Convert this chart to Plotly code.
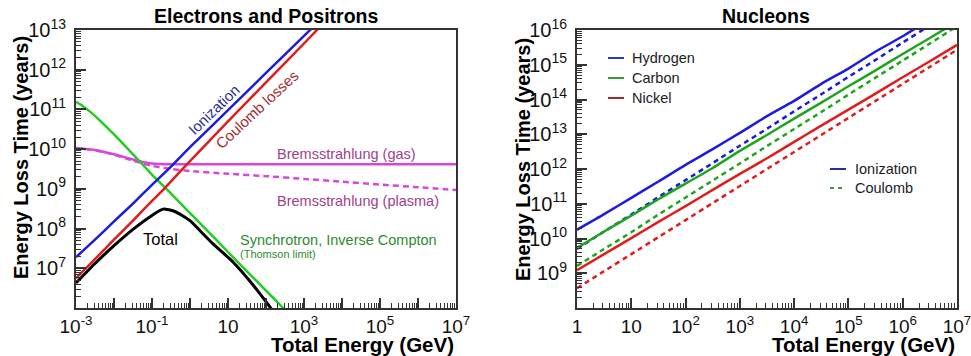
import plotly.graph_objects as go

W, H = 971, 356
FONT = "Liberation Sans, Arial, Helvetica, sans-serif"

# ---------------- Electrons and positrons (log10 energy [GeV], log10 time [yr]) ----------------
ion_e_logE = [-3.0, -2.5, -2.0, -1.5, -1.0, -0.5, 0.0, 1.0, 2.0, 3.0, 3.5]
ion_e_logT = [7.28, 7.72, 8.18, 8.63, 9.10, 9.56, 10.05, 10.98, 11.92, 12.85, 13.32]

coul_e_logE = [-3.0, -2.5, -2.0, -1.5, -1.0, -0.7, -0.5, 0.0, 1.0, 2.0, 3.0, 3.5]
coul_e_logT = [6.75, 7.23, 7.72, 8.20, 8.70, 8.98, 9.19, 9.70, 10.70, 11.68, 12.66, 13.16]

sync_logE = [-3.0, -2.8, -2.6, -2.37, -2.0, -1.5, -1.0, -0.5, 0.0, 0.26, 1.0, 1.5, 2.0, 2.45, 2.6]
sync_logT = [11.19, 11.07, 10.92, 10.72, 10.37, 9.87, 9.36, 8.88, 8.39, 8.14, 7.41, 6.92, 6.44, 6.0, 5.85]

brem_gas_logE = [-3.0, -2.5, -2.0, -1.5, -1.2, -1.0, -0.5, 0.0, 7.0]
brem_gas_logT = [10.03, 9.98, 9.87, 9.74, 9.67, 9.64, 9.62, 9.62, 9.62]

brem_pl_logE = [-3.0, -2.5, -2.0, -1.5, -1.0, -0.5, 0.0, 1.0, 2.0, 3.0, 4.0, 5.0, 6.0, 7.0]
brem_pl_logT = [10.03, 9.97, 9.86, 9.71, 9.58, 9.50, 9.45, 9.38, 9.32, 9.25, 9.18, 9.11, 9.04, 8.97]

total_logE = [-3.0, -2.5, -2.0, -1.5, -1.0, -0.71, -0.4, 0.0, 0.26, 0.6, 1.13, 1.6, 2.03, 2.2]
total_logT = [6.63, 7.12, 7.57, 7.98, 8.33, 8.49, 8.43, 8.20, 7.95, 7.62, 7.16, 6.65, 6.12, 5.90]

# ---------------- Nucleons (log10 energy [GeV], log10 time [yr]) ----------------
nuc_logE = [0.0, 0.5, 1.0, 1.5, 2.0, 2.5, 3.0, 3.5, 4.0, 4.5, 5.0, 5.5, 6.0, 6.5, 7.0]
h_ion_logT = [10.25, 10.70, 11.17, 11.64, 12.12, 12.57, 13.04, 13.52, 13.96, 14.45, 14.89, 15.38, 15.82, 16.30, 16.76]
h_coul_logT = [9.70, 10.20, 10.69, 11.19, 11.68, 12.17, 12.67, 13.16, 13.66, 14.15, 14.65, 15.14, 15.64, 16.13, 16.63]
c_ion_logT = [9.73, 10.20, 10.66, 11.13, 11.58, 12.03, 12.52, 12.98, 13.45, 13.91, 14.38, 14.84, 15.31, 15.77, 16.24]
c_coul_logT = [9.21, 9.70, 10.18, 10.69, 11.18, 11.67, 12.16, 12.66, 13.15, 13.64, 14.14, 14.63, 15.12, 15.61, 16.11]
ni_ion_logT = [9.09, 9.55, 10.01, 10.48, 10.93, 11.40, 11.86, 12.31, 12.78, 13.25, 13.71, 14.17, 14.64, 15.10, 15.57]
ni_coul_logT = [8.57, 9.06, 9.55, 10.04, 10.53, 11.02, 11.51, 12.00, 12.49, 12.98, 13.47, 13.96, 14.45, 14.94, 15.43]

# tick labels
e_xticks = list(range(-3, 8))
e_xlabels = ["10<sup>-3</sup>", "", "10<sup>-1</sup>", "", "10", "", "10<sup>3</sup>", "", "10<sup>5</sup>", "", "10<sup>7</sup>"]
e_yticks = list(range(6, 14))
e_ylabels = [""] + [f"10<sup>{k}</sup>" for k in range(7, 14)]
n_xticks = list(range(0, 8))
n_xlabels = ["1", "10"] + [f"10<sup>{k}</sup>" for k in range(2, 8)]
n_yticks = list(range(8, 17))
n_ylabels = [""] + [f"10<sup>{k}</sup>" for k in range(9, 17)]

BLUE = "#1c1ce0"
RED = "#e01c1c"
GREEN_E = "#22cc22"
GREEN_N = "#1ea51e"
MAGENTA = "#d848d8"


def p(v):
    return [10.0 ** a for a in v]


fig = go.Figure()


def line(xa, ya, logE, logT, color, width=2.5, dash="solid"):
    fig.add_trace(go.Scatter(
        x=p(logE), y=p(logT), xaxis=xa, yaxis=ya, mode="lines",
        line=dict(color=color, width=width, dash=dash, shape="spline", smoothing=0.6),
        showlegend=False, hoverinfo="skip"))


# electrons panel
line("x", "y", brem_gas_logE, brem_gas_logT, MAGENTA)
line("x", "y", brem_pl_logE, brem_pl_logT, MAGENTA, dash="6px,4px")
line("x", "y", sync_logE, sync_logT, GREEN_E)
line("x", "y", ion_e_logE, ion_e_logT, BLUE)
line("x", "y", coul_e_logE, coul_e_logT, RED)
line("x", "y", total_logE, total_logT, "black", width=3)

# nucleons panel
DASH = "5px,4px"
line("x2", "y2", nuc_logE, h_ion_logT, BLUE)
line("x2", "y2", nuc_logE, h_coul_logT, BLUE, dash=DASH)
line("x2", "y2", nuc_logE, c_ion_logT, GREEN_N)
line("x2", "y2", nuc_logE, c_coul_logT, GREEN_N, dash=DASH)
line("x2", "y2", nuc_logE, ni_ion_logT, RED)
line("x2", "y2", nuc_logE, ni_coul_logT, RED, dash=DASH)


def minor_vals(lo, hi):
    return [m * 10.0 ** k for k in range(lo, hi) for m in range(2, 10)]


def fx(px):
    return px / W


def fy(py):
    return 1 - py / H


AXC = "#333333"
xtickfont = dict(family=FONT, size=19, color="#111111")
ytickfont = dict(family=FONT, size=20, color="#111111")


def xaxis(dom, lo, hi, ticks, labels):
    return dict(type="log", domain=dom, range=[lo, hi], tickmode="array",
                tickvals=p(ticks), ticktext=labels, ticks="inside", ticklen=10,
                tickwidth=1.5, tickcolor=AXC, showline=True, linecolor=AXC,
                linewidth=2, mirror=True, showgrid=False, zeroline=False,
                tickfont=xtickfont, ticklabelstandoff=0, automargin=False,
                ticklabeloverflow="allow",
                minor=dict(tickvals=minor_vals(lo, hi), ticks="inside", ticklen=5,
                           tickwidth=1.2, tickcolor=AXC, showgrid=False))


def yaxis(anchor, lo, hi, ticks, labels):
    return dict(type="log", domain=[fy(308), fy(30)], range=[lo, hi], anchor=anchor,
                tickmode="array", tickvals=p(ticks), ticktext=labels, ticks="inside",
                ticklen=10, tickwidth=1.5, tickcolor=AXC, showline=True,
                linecolor=AXC, linewidth=2, mirror=True, showgrid=False,
                zeroline=False, tickfont=ytickfont, ticklabelstandoff=4,
                automargin=False, ticklabeloverflow="allow",
                minor=dict(tickvals=minor_vals(lo, hi), ticks="inside", ticklen=5,
                           tickwidth=1.2, tickcolor=AXC, showgrid=False))


fig.update_layout(
    width=W, height=H, margin=dict(l=0, r=0, t=0, b=0, autoexpand=False),
    paper_bgcolor="white", plot_bgcolor="white", showlegend=False,
    font=dict(family=FONT),
    xaxis=dict(**xaxis([fx(76), fx(456)], -3, 7, e_xticks, e_xlabels), anchor="y"),
    yaxis=yaxis("x", 6, 13, e_yticks, e_ylabels),
    xaxis2=dict(**xaxis([fx(577), fx(957)], 0, 7, n_xticks, n_xlabels), anchor="y2"),
    yaxis2=yaxis("x2", 8, 16, n_yticks, n_ylabels),
)

ann = []


def text(x, y, s, size=14, color="#222222", bold=False, angle=0, xanchor="center"):
    if bold:
        s = f"<b>{s}</b>"
    ann.append(dict(x=fx(x), y=fy(y), xref="paper", yref="paper", text=s,
                    showarrow=False, textangle=angle, xanchor=xanchor, yanchor="middle",
                    font=dict(family=FONT, size=size, color=color)))


# titles
text(266, 16, "Electrons and Positrons", size=19.5, color="black", bold=True)
text(766, 16, "Nucleons", size=19.5, color="black", bold=True)
text(456, 344, "Total Energy (GeV)", size=20.5, color="black", bold=True, xanchor="right")
text(957, 344, "Total Energy (GeV)", size=20.5, color="black", bold=True, xanchor="right")
text(21, 158, "Energy Loss Time (years)", size=20, color="black", bold=True, angle=-90)
text(523, 160, "Energy Loss Time (years)", size=20, color="black", bold=True, angle=-90)

# curve labels, electrons panel
text(214, 110, "Ionization", size=15, color="#2b2ba0", angle=-44)
text(257, 110, "Coulomb losses", size=15, color="#a02b2b", angle=-43)
text(275, 154, "Bremsstrahlung (gas)", size=14.5, color="#a0418c", xanchor="left")
text(275, 201, "Bremsstrahlung (plasma)", size=14.5, color="#a0418c", xanchor="left")
text(238, 240, "Synchrotron, Inverse Compton", size=14.5, color="#2e8b2e", xanchor="left")
text(238, 254, "(Thomson limit)", size=11, color="#2e8b2e", xanchor="left")
text(160, 239, "Total", size=16.5, color="black")

# legends, nucleons panel
legend_items = [("Hydrogen", "#2b3aa8", 58), ("Carbon", "#3a9a3a", 78), ("Nickel", "#a02b2b", 98)]
shapes = []
for name, col, yy in legend_items:
    shapes.append(dict(type="line", xref="paper", yref="paper", x0=fx(608), x1=fx(624),
                       y0=fy(yy), y1=fy(yy), line=dict(color=col, width=2)))
    text(630, yy, name, size=14.5, xanchor="left")

shapes.append(dict(type="line", xref="paper", yref="paper", x0=fx(830), x1=fx(846),
                   y0=fy(169), y1=fy(169), line=dict(color="#2b2ba8", width=2)))
text(853, 169, "Ionization", size=14.5, xanchor="left")
shapes.append(dict(type="line", xref="paper", yref="paper", x0=fx(830), x1=fx(846),
                   y0=fy(188), y1=fy(188), line=dict(color="#3a9a3a", width=2, dash="4px,4px")))
text(853, 188, "Coulomb", size=14.5, xanchor="left")

fig.update_layout(annotations=ann, shapes=shapes)

fig.write_html("out.html")
